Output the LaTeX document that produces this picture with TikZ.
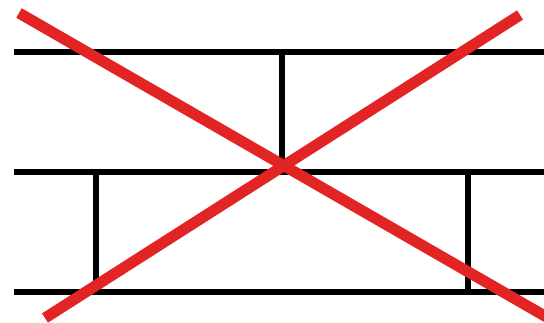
\documentclass[tikz,border=0pt]{standalone}
\definecolor{xred}{RGB}{226,36,36}
\tikzset{brick/.style={line width=6.5pt,black},cross/.style={line width=11pt,xred}}
\begin{document}
\begin{tikzpicture}[x=1pt,y=-1pt]
\useasboundingbox (0,0) rectangle (544,322);
\clip (0,0) rectangle (544,322);
\fill[white] (0,0) rectangle (544,322);
% horizontal lines
\draw[brick] (14,52) -- (548,52);
\draw[brick] (14,172) -- (548,172);
\draw[brick] (14,292) -- (548,292);
% vertical joints
\draw[brick] (282,52) -- (282,172);
\draw[brick] (96,172) -- (96,292);
\draw[brick] (468,172) -- (468,292);
% red cross
\draw[cross] (19,13) -- (550,319);
\draw[cross] (520,15) -- (45,318);
\end{tikzpicture}
\end{document}
